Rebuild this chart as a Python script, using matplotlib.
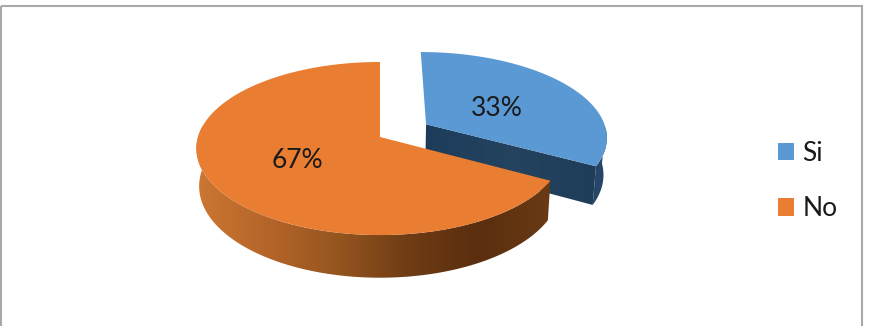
import numpy as np
import matplotlib
matplotlib.use("Agg")
import matplotlib.pyplot as plt
from matplotlib.patches import Patch, Polygon, Rectangle
from matplotlib.colors import LinearSegmentedColormap

# Data
labels = ["Si", "No"]
shares = [33, 67]
label_pos = [(497, 108), (297, 160)]

colors = ["#5a99d4", "#e97d31"]
text_color = "#1a1a1a"

# Pie geometry, in pixels
cx, cy = 380, 137
rx, ry = 182, 85
persp = 0.133
depth = 37
explode = [0.30, 0.0]


def project(t, r=1.0, off=(0.0, 0.0), down=0.0):
    # t is clockwise from twelve o'clock, in radians
    u = r * np.sin(t) + off[0]
    v = r * np.cos(t) + off[1]
    s = 1 / (1 + persp * v)
    shrink = 1 - 0.015 * (down > 0)
    x = cx + rx * u * s * shrink
    y = cy - ry * v * s + down * s
    return np.column_stack([np.atleast_1d(x), np.atleast_1d(y)])


def wall(t0, t1, off=(0.0, 0.0)):
    t = np.linspace(t0, t1, 120)
    return np.vstack([project(t, off=off), project(t, off=off, down=depth)[::-1]])


def gradient_fill(ax, poly, stops, x0, x1, zorder):
    cmap = LinearSegmentedColormap.from_list("wall", stops)
    im = ax.imshow(np.linspace(0, 1, 256).reshape(1, -1), cmap=cmap, aspect="auto",
                   extent=(x0, x1, 326, 0), zorder=zorder)
    patch = Polygon(poly, closed=True, transform=ax.transData, fc="none", ec="none")
    ax.add_patch(patch)
    im.set_clip_path(patch)


fig = plt.figure(figsize=(8.73, 3.26), dpi=100)
ax = fig.add_axes([0, 0, 1, 1])

# Slice angles from the shares
ends = np.cumsum(shares) / np.sum(shares) * 2 * np.pi
starts = np.concatenate([[0], ends[:-1]])

# Si: pulled out towards its middle angle, drawn first since it sits behind
mid = (starts[0] + ends[0]) / 2
off = (explode[0] * np.sin(mid), explode[0] * np.cos(mid))
apex = project(0, r=0, off=off)
apex_low = project(0, r=0, off=off, down=depth)
end_top = project(ends[0], off=off)
end_low = project(ends[0], off=off, down=depth)
ax.add_patch(Polygon(wall(np.radians(92), ends[0], off), fc="#264667", ec="none", zorder=2))
gradient_fill(ax, np.vstack([apex, end_top, end_low, apex_low]),
              ["#1d3c5a", "#24435f", "#1f3d59"], 420, 600, 3)
t = np.linspace(starts[0], ends[0], 200)
ax.add_patch(Polygon(np.vstack([apex, project(t, off=off)]), fc=colors[0], ec="none", zorder=4))

# No: side wall with the brown gradient, then the flat top
gradient_fill(ax, wall(ends[0], np.radians(278)),
              ["#cc7732", "#b5652a", "#95551f", "#6f3c14", "#5a2e0e", "#6a3a14"], 196, 551, 5)
t = np.linspace(starts[1], ends[1], 300)
ax.add_patch(Polygon(np.vstack([project(0, r=0), project(t)]), fc=colors[1], ec="none", zorder=6))

# Value labels
for (x, y), v in zip(label_pos, shares):
    ax.text(x, y, f"{v}%", ha="center", va="center", fontsize=19, family="Lato",
            color=text_color, zorder=8)

# Chart frame, its bottom edge runs off the canvas
ax.add_patch(Rectangle((1, 6), 861, 330, fc="none", ec="#a9a9a9", lw=1.5, zorder=9))

handles = [Patch(fc=c, ec="none", label=l) for c, l in zip(colors, labels)]
ax.legend(handles=handles, loc="center left", bbox_to_anchor=(778, 181),
          bbox_transform=ax.transData, frameon=False, prop={"family": "Lato", "size": 19},
          labelcolor=text_color, handlelength=0.62, handleheight=0.62, handletextpad=0.3,
          labelspacing=1.16, borderpad=0, borderaxespad=0)

ax.set_xlim(0, 873)
ax.set_ylim(326, 0)
ax.axis("off")

fig.savefig("out.png", dpi=100, facecolor="white")
